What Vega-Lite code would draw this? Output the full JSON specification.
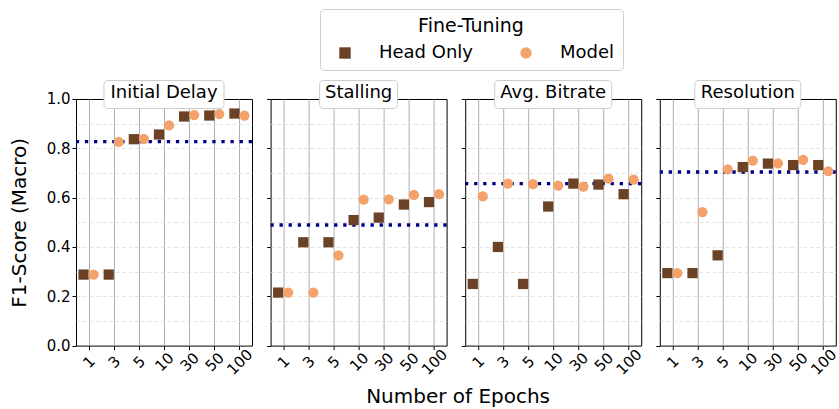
{
  "$schema": "https://vega.github.io/schema/vega-lite/v6.json",
  "padding": {"left": 8, "top": 8, "right": 2, "bottom": 5},
  "datasets": {
    "scores": [
      {"metric": "Initial Delay", "method": "Head Only", "epoch": "1", "f1": 0.288},
      {"metric": "Initial Delay", "method": "Head Only", "epoch": "3", "f1": 0.288},
      {"metric": "Initial Delay", "method": "Head Only", "epoch": "5", "f1": 0.837},
      {"metric": "Initial Delay", "method": "Head Only", "epoch": "10", "f1": 0.856},
      {"metric": "Initial Delay", "method": "Head Only", "epoch": "30", "f1": 0.929},
      {"metric": "Initial Delay", "method": "Head Only", "epoch": "50", "f1": 0.933},
      {"metric": "Initial Delay", "method": "Head Only", "epoch": "100", "f1": 0.941},
      {"metric": "Initial Delay", "method": "Model", "epoch": "1", "f1": 0.288},
      {"metric": "Initial Delay", "method": "Model", "epoch": "3", "f1": 0.826},
      {"metric": "Initial Delay", "method": "Model", "epoch": "5", "f1": 0.838},
      {"metric": "Initial Delay", "method": "Model", "epoch": "10", "f1": 0.893},
      {"metric": "Initial Delay", "method": "Model", "epoch": "30", "f1": 0.935},
      {"metric": "Initial Delay", "method": "Model", "epoch": "50", "f1": 0.939},
      {"metric": "Initial Delay", "method": "Model", "epoch": "100", "f1": 0.933},
      {"metric": "Stalling", "method": "Head Only", "epoch": "1", "f1": 0.215},
      {"metric": "Stalling", "method": "Head Only", "epoch": "3", "f1": 0.419},
      {"metric": "Stalling", "method": "Head Only", "epoch": "5", "f1": 0.419},
      {"metric": "Stalling", "method": "Head Only", "epoch": "10", "f1": 0.509},
      {"metric": "Stalling", "method": "Head Only", "epoch": "30", "f1": 0.519},
      {"metric": "Stalling", "method": "Head Only", "epoch": "50", "f1": 0.572},
      {"metric": "Stalling", "method": "Head Only", "epoch": "100", "f1": 0.582},
      {"metric": "Stalling", "method": "Model", "epoch": "1", "f1": 0.215},
      {"metric": "Stalling", "method": "Model", "epoch": "3", "f1": 0.215},
      {"metric": "Stalling", "method": "Model", "epoch": "5", "f1": 0.366},
      {"metric": "Stalling", "method": "Model", "epoch": "10", "f1": 0.592},
      {"metric": "Stalling", "method": "Model", "epoch": "30", "f1": 0.593},
      {"metric": "Stalling", "method": "Model", "epoch": "50", "f1": 0.611},
      {"metric": "Stalling", "method": "Model", "epoch": "100", "f1": 0.614},
      {"metric": "Avg. Bitrate", "method": "Head Only", "epoch": "1", "f1": 0.250},
      {"metric": "Avg. Bitrate", "method": "Head Only", "epoch": "3", "f1": 0.400},
      {"metric": "Avg. Bitrate", "method": "Head Only", "epoch": "5", "f1": 0.250},
      {"metric": "Avg. Bitrate", "method": "Head Only", "epoch": "10", "f1": 0.564},
      {"metric": "Avg. Bitrate", "method": "Head Only", "epoch": "30", "f1": 0.657},
      {"metric": "Avg. Bitrate", "method": "Head Only", "epoch": "50", "f1": 0.653},
      {"metric": "Avg. Bitrate", "method": "Head Only", "epoch": "100", "f1": 0.614},
      {"metric": "Avg. Bitrate", "method": "Model", "epoch": "1", "f1": 0.605},
      {"metric": "Avg. Bitrate", "method": "Model", "epoch": "3", "f1": 0.657},
      {"metric": "Avg. Bitrate", "method": "Model", "epoch": "5", "f1": 0.655},
      {"metric": "Avg. Bitrate", "method": "Model", "epoch": "10", "f1": 0.649},
      {"metric": "Avg. Bitrate", "method": "Model", "epoch": "30", "f1": 0.645},
      {"metric": "Avg. Bitrate", "method": "Model", "epoch": "50", "f1": 0.677},
      {"metric": "Avg. Bitrate", "method": "Model", "epoch": "100", "f1": 0.673},
      {"metric": "Resolution", "method": "Head Only", "epoch": "1", "f1": 0.294},
      {"metric": "Resolution", "method": "Head Only", "epoch": "3", "f1": 0.294},
      {"metric": "Resolution", "method": "Head Only", "epoch": "5", "f1": 0.366},
      {"metric": "Resolution", "method": "Head Only", "epoch": "10", "f1": 0.724},
      {"metric": "Resolution", "method": "Head Only", "epoch": "30", "f1": 0.738},
      {"metric": "Resolution", "method": "Head Only", "epoch": "50", "f1": 0.732},
      {"metric": "Resolution", "method": "Head Only", "epoch": "100", "f1": 0.732},
      {"metric": "Resolution", "method": "Model", "epoch": "1", "f1": 0.294},
      {"metric": "Resolution", "method": "Model", "epoch": "3", "f1": 0.541},
      {"metric": "Resolution", "method": "Model", "epoch": "5", "f1": 0.715},
      {"metric": "Resolution", "method": "Model", "epoch": "10", "f1": 0.750},
      {"metric": "Resolution", "method": "Model", "epoch": "30", "f1": 0.739},
      {"metric": "Resolution", "method": "Model", "epoch": "50", "f1": 0.753},
      {"metric": "Resolution", "method": "Model", "epoch": "100", "f1": 0.707}
    ],
    "baselines": [
      {"metric": "Initial Delay", "baseline": 0.827},
      {"metric": "Stalling", "baseline": 0.489},
      {"metric": "Avg. Bitrate", "baseline": 0.657},
      {"metric": "Resolution", "baseline": 0.704}
    ]
  },
  "title": {"text": "Number of Epochs", "orient": "bottom", "anchor": "middle", "fontSize": 20, "fontWeight": "normal", "offset": 9, "dx": 34, "font": "DejaVu Sans", "color": "black"},
  "spacing": 18.6,
  "bounds": "flush",
  "hconcat": [
    {
      "width": 176, "height": 246.6,
      "resolve": {"axis": {"y": "independent"}},
      "layer": [
        {
          "data": {"name": "baselines"},
          "transform": [{"filter": "datum.metric === 'Initial Delay'"}],
          "mark": {"type": "rule", "color": "#00008b", "strokeWidth": 3.3, "strokeDash": [3.3, 5.8]},
          "encoding": {"y": {"field": "baseline", "type": "quantitative", "scale": {"domain": [0, 1]}, "axis": {"orient": "left", "values": [0.1, 0.2, 0.3, 0.4, 0.5, 0.6, 0.7, 0.8, 0.9], "grid": true, "gridColor": "#dddddd", "gridDash": [4, 2.5], "gridWidth": 0.8, "ticks": false, "labels": false, "domain": false, "title": null}}}
        },
        {
          "data": {"name": "scores"},
          "transform": [{"filter": "datum.metric === 'Initial Delay' && datum.method === 'Head Only'"}],
          "mark": {"type": "point", "filled": true, "opacity": 1, "size": 105, "xOffset": -5},
          "encoding": {
            "x": {"field": "epoch", "type": "ordinal", "sort": ["1", "3", "5", "10", "30", "50", "100"], "scale": {"type": "point", "padding": 0.5}, "axis": {"title": null, "labelAngle": -45, "labelAlign": "center", "labelBaseline": "middle", "labelPadding": 12, "tickSize": 4, "tickColor": "black", "domain": false, "grid": true, "gridColor": "#b0b0b0", "gridWidth": 1, "labelFontSize": 15}},
            "y": {"field": "f1", "type": "quantitative", "scale": {"domain": [0, 1]}, "axis": {"orient": "left", "values": [0, 0.2, 0.4, 0.6, 0.8, 1.0], "format": ".1f", "grid": false, "domain": false, "tickSize": 4, "tickColor": "black", "labelFontSize": 15, "title": "F1-Score (Macro)", "titleFontSize": 20, "titlePadding": 17}},
            "color": {"field": "method", "type": "nominal", "title": "Fine-Tuning", "scale": {"domain": ["Head Only", "Model"], "range": ["#6b4226", "#f4a26b"]}},
            "shape": {"field": "method", "type": "nominal", "title": "Fine-Tuning", "scale": {"domain": ["Head Only", "Model"], "range": ["square", "circle"]}}
          }
        },
        {
          "data": {"name": "scores"},
          "transform": [{"filter": "datum.metric === 'Initial Delay' && datum.method === 'Model'"}],
          "mark": {"type": "point", "filled": true, "opacity": 1, "size": 105, "xOffset": 5},
          "encoding": {
            "x": {"field": "epoch", "type": "ordinal", "sort": ["1", "3", "5", "10", "30", "50", "100"], "scale": {"type": "point", "padding": 0.5}},
            "y": {"field": "f1", "type": "quantitative", "scale": {"domain": [0, 1]}, "axis": null},
            "color": {"field": "method", "type": "nominal", "title": "Fine-Tuning", "scale": {"domain": ["Head Only", "Model"], "range": ["#6b4226", "#f4a26b"]}},
            "shape": {"field": "method", "type": "nominal", "title": "Fine-Tuning", "scale": {"domain": ["Head Only", "Model"], "range": ["square", "circle"]}}
          }
        },
        {
          "data": {"name": "baselines"},
          "transform": [{"filter": "datum.metric === 'Initial Delay'"}],
          "encoding": {
            "x": {"datum": "10", "type": "ordinal", "scale": {"type": "point", "padding": 0.5}},
            "y": {"datum": 1, "type": "quantitative", "scale": {"domain": [0, 1]}, "axis": null}
          },
          "layer": [
            {"mark": {"type": "point", "shape": "M-0.933,-0.308 L0.933,-0.308 Q1,-0.308 1,-0.241 L1,0.091 Q1,0.158 0.933,0.158 L-0.933,0.158 Q-1,0.158 -1,0.091 L-1,-0.241 Q-1,-0.308 -0.933,-0.308 Z", "size": 14400, "filled": true, "fill": "white", "stroke": "#cccccc", "strokeWidth": 1, "opacity": 1}},
            {"mark": {"type": "text", "fontSize": 18, "dy": -6, "baseline": "middle", "align": "center", "color": "black"}, "encoding": {"text": {"field": "metric"}}}
          ]
        }
      ]
    },
    {
      "width": 176, "height": 246.6,
      "resolve": {"axis": {"y": "independent"}},
      "layer": [
        {
          "data": {"name": "baselines"},
          "transform": [{"filter": "datum.metric === 'Stalling'"}],
          "mark": {"type": "rule", "color": "#00008b", "strokeWidth": 3.3, "strokeDash": [3.3, 5.8]},
          "encoding": {"y": {"field": "baseline", "type": "quantitative", "scale": {"domain": [0, 1]}, "axis": {"orient": "left", "values": [0.1, 0.2, 0.3, 0.4, 0.5, 0.6, 0.7, 0.8, 0.9], "grid": true, "gridColor": "#dddddd", "gridDash": [4, 2.5], "gridWidth": 0.8, "ticks": false, "labels": false, "domain": false, "title": null}}}
        },
        {
          "data": {"name": "scores"},
          "transform": [{"filter": "datum.metric === 'Stalling' && datum.method === 'Head Only'"}],
          "mark": {"type": "point", "filled": true, "opacity": 1, "size": 105, "xOffset": -5},
          "encoding": {
            "x": {"field": "epoch", "type": "ordinal", "sort": ["1", "3", "5", "10", "30", "50", "100"], "scale": {"type": "point", "padding": 0.5}, "axis": {"title": null, "labelAngle": -45, "labelAlign": "center", "labelBaseline": "middle", "labelPadding": 12, "tickSize": 4, "tickColor": "black", "domain": false, "grid": true, "gridColor": "#b0b0b0", "gridWidth": 1, "labelFontSize": 15}},
            "y": {"field": "f1", "type": "quantitative", "scale": {"domain": [0, 1]}, "axis": {"orient": "left", "values": [0, 0.2, 0.4, 0.6, 0.8, 1.0], "grid": false, "domain": false, "tickSize": 4, "tickColor": "black", "labels": false, "title": null}},
            "color": {"field": "method", "type": "nominal", "title": "Fine-Tuning", "scale": {"domain": ["Head Only", "Model"], "range": ["#6b4226", "#f4a26b"]}},
            "shape": {"field": "method", "type": "nominal", "title": "Fine-Tuning", "scale": {"domain": ["Head Only", "Model"], "range": ["square", "circle"]}}
          }
        },
        {
          "data": {"name": "scores"},
          "transform": [{"filter": "datum.metric === 'Stalling' && datum.method === 'Model'"}],
          "mark": {"type": "point", "filled": true, "opacity": 1, "size": 105, "xOffset": 5},
          "encoding": {
            "x": {"field": "epoch", "type": "ordinal", "sort": ["1", "3", "5", "10", "30", "50", "100"], "scale": {"type": "point", "padding": 0.5}},
            "y": {"field": "f1", "type": "quantitative", "scale": {"domain": [0, 1]}, "axis": null},
            "color": {"field": "method", "type": "nominal", "title": "Fine-Tuning", "scale": {"domain": ["Head Only", "Model"], "range": ["#6b4226", "#f4a26b"]}},
            "shape": {"field": "method", "type": "nominal", "title": "Fine-Tuning", "scale": {"domain": ["Head Only", "Model"], "range": ["square", "circle"]}}
          }
        },
        {
          "data": {"name": "baselines"},
          "transform": [{"filter": "datum.metric === 'Stalling'"}],
          "encoding": {
            "x": {"datum": "10", "type": "ordinal", "scale": {"type": "point", "padding": 0.5}},
            "y": {"datum": 1, "type": "quantitative", "scale": {"domain": [0, 1]}, "axis": null}
          },
          "layer": [
            {"mark": {"type": "point", "shape": "M-0.583,-0.308 L0.583,-0.308 Q0.65,-0.308 0.65,-0.241 L0.65,0.091 Q0.65,0.158 0.583,0.158 L-0.583,0.158 Q-0.65,0.158 -0.65,0.091 L-0.65,-0.241 Q-0.65,-0.308 -0.583,-0.308 Z", "size": 14400, "filled": true, "fill": "white", "stroke": "#cccccc", "strokeWidth": 1, "opacity": 1}},
            {"mark": {"type": "text", "fontSize": 18, "dy": -6, "baseline": "middle", "align": "center", "color": "black"}, "encoding": {"text": {"field": "metric"}}}
          ]
        }
      ]
    },
    {
      "width": 176, "height": 246.6,
      "resolve": {"axis": {"y": "independent"}},
      "layer": [
        {
          "data": {"name": "baselines"},
          "transform": [{"filter": "datum.metric === 'Avg. Bitrate'"}],
          "mark": {"type": "rule", "color": "#00008b", "strokeWidth": 3.3, "strokeDash": [3.3, 5.8]},
          "encoding": {"y": {"field": "baseline", "type": "quantitative", "scale": {"domain": [0, 1]}, "axis": {"orient": "left", "values": [0.1, 0.2, 0.3, 0.4, 0.5, 0.6, 0.7, 0.8, 0.9], "grid": true, "gridColor": "#dddddd", "gridDash": [4, 2.5], "gridWidth": 0.8, "ticks": false, "labels": false, "domain": false, "title": null}}}
        },
        {
          "data": {"name": "scores"},
          "transform": [{"filter": "datum.metric === 'Avg. Bitrate' && datum.method === 'Head Only'"}],
          "mark": {"type": "point", "filled": true, "opacity": 1, "size": 105, "xOffset": -5},
          "encoding": {
            "x": {"field": "epoch", "type": "ordinal", "sort": ["1", "3", "5", "10", "30", "50", "100"], "scale": {"type": "point", "padding": 0.5}, "axis": {"title": null, "labelAngle": -45, "labelAlign": "center", "labelBaseline": "middle", "labelPadding": 12, "tickSize": 4, "tickColor": "black", "domain": false, "grid": true, "gridColor": "#b0b0b0", "gridWidth": 1, "labelFontSize": 15}},
            "y": {"field": "f1", "type": "quantitative", "scale": {"domain": [0, 1]}, "axis": {"orient": "left", "values": [0, 0.2, 0.4, 0.6, 0.8, 1.0], "grid": false, "domain": false, "tickSize": 4, "tickColor": "black", "labels": false, "title": null}},
            "color": {"field": "method", "type": "nominal", "title": "Fine-Tuning", "scale": {"domain": ["Head Only", "Model"], "range": ["#6b4226", "#f4a26b"]}},
            "shape": {"field": "method", "type": "nominal", "title": "Fine-Tuning", "scale": {"domain": ["Head Only", "Model"], "range": ["square", "circle"]}}
          }
        },
        {
          "data": {"name": "scores"},
          "transform": [{"filter": "datum.metric === 'Avg. Bitrate' && datum.method === 'Model'"}],
          "mark": {"type": "point", "filled": true, "opacity": 1, "size": 105, "xOffset": 5},
          "encoding": {
            "x": {"field": "epoch", "type": "ordinal", "sort": ["1", "3", "5", "10", "30", "50", "100"], "scale": {"type": "point", "padding": 0.5}},
            "y": {"field": "f1", "type": "quantitative", "scale": {"domain": [0, 1]}, "axis": null},
            "color": {"field": "method", "type": "nominal", "title": "Fine-Tuning", "scale": {"domain": ["Head Only", "Model"], "range": ["#6b4226", "#f4a26b"]}},
            "shape": {"field": "method", "type": "nominal", "title": "Fine-Tuning", "scale": {"domain": ["Head Only", "Model"], "range": ["square", "circle"]}}
          }
        },
        {
          "data": {"name": "baselines"},
          "transform": [{"filter": "datum.metric === 'Avg. Bitrate'"}],
          "encoding": {
            "x": {"datum": "10", "type": "ordinal", "scale": {"type": "point", "padding": 0.5}},
            "y": {"datum": 1, "type": "quantitative", "scale": {"domain": [0, 1]}, "axis": null}
          },
          "layer": [
            {"mark": {"type": "point", "shape": "M-0.908,-0.308 L0.908,-0.308 Q0.975,-0.308 0.975,-0.241 L0.975,0.091 Q0.975,0.158 0.908,0.158 L-0.908,0.158 Q-0.975,0.158 -0.975,0.091 L-0.975,-0.241 Q-0.975,-0.308 -0.908,-0.308 Z", "size": 14400, "filled": true, "fill": "white", "stroke": "#cccccc", "strokeWidth": 1, "opacity": 1}},
            {"mark": {"type": "text", "fontSize": 18, "dy": -6, "baseline": "middle", "align": "center", "color": "black"}, "encoding": {"text": {"field": "metric"}}}
          ]
        }
      ]
    },
    {
      "width": 176, "height": 246.6,
      "resolve": {"axis": {"y": "independent"}},
      "layer": [
        {
          "data": {"name": "baselines"},
          "transform": [{"filter": "datum.metric === 'Resolution'"}],
          "mark": {"type": "rule", "color": "#00008b", "strokeWidth": 3.3, "strokeDash": [3.3, 5.8]},
          "encoding": {"y": {"field": "baseline", "type": "quantitative", "scale": {"domain": [0, 1]}, "axis": {"orient": "left", "values": [0.1, 0.2, 0.3, 0.4, 0.5, 0.6, 0.7, 0.8, 0.9], "grid": true, "gridColor": "#dddddd", "gridDash": [4, 2.5], "gridWidth": 0.8, "ticks": false, "labels": false, "domain": false, "title": null}}}
        },
        {
          "data": {"name": "scores"},
          "transform": [{"filter": "datum.metric === 'Resolution' && datum.method === 'Head Only'"}],
          "mark": {"type": "point", "filled": true, "opacity": 1, "size": 105, "xOffset": -5},
          "encoding": {
            "x": {"field": "epoch", "type": "ordinal", "sort": ["1", "3", "5", "10", "30", "50", "100"], "scale": {"type": "point", "padding": 0.5}, "axis": {"title": null, "labelAngle": -45, "labelAlign": "center", "labelBaseline": "middle", "labelPadding": 12, "tickSize": 4, "tickColor": "black", "domain": false, "grid": true, "gridColor": "#b0b0b0", "gridWidth": 1, "labelFontSize": 15}},
            "y": {"field": "f1", "type": "quantitative", "scale": {"domain": [0, 1]}, "axis": {"orient": "left", "values": [0, 0.2, 0.4, 0.6, 0.8, 1.0], "grid": false, "domain": false, "tickSize": 4, "tickColor": "black", "labels": false, "title": null}},
            "color": {"field": "method", "type": "nominal", "title": "Fine-Tuning", "scale": {"domain": ["Head Only", "Model"], "range": ["#6b4226", "#f4a26b"]}},
            "shape": {"field": "method", "type": "nominal", "title": "Fine-Tuning", "scale": {"domain": ["Head Only", "Model"], "range": ["square", "circle"]}}
          }
        },
        {
          "data": {"name": "scores"},
          "transform": [{"filter": "datum.metric === 'Resolution' && datum.method === 'Model'"}],
          "mark": {"type": "point", "filled": true, "opacity": 1, "size": 105, "xOffset": 5},
          "encoding": {
            "x": {"field": "epoch", "type": "ordinal", "sort": ["1", "3", "5", "10", "30", "50", "100"], "scale": {"type": "point", "padding": 0.5}},
            "y": {"field": "f1", "type": "quantitative", "scale": {"domain": [0, 1]}, "axis": null},
            "color": {"field": "method", "type": "nominal", "title": "Fine-Tuning", "scale": {"domain": ["Head Only", "Model"], "range": ["#6b4226", "#f4a26b"]}},
            "shape": {"field": "method", "type": "nominal", "title": "Fine-Tuning", "scale": {"domain": ["Head Only", "Model"], "range": ["square", "circle"]}}
          }
        },
        {
          "data": {"name": "baselines"},
          "transform": [{"filter": "datum.metric === 'Resolution'"}],
          "encoding": {
            "x": {"datum": "10", "type": "ordinal", "scale": {"type": "point", "padding": 0.5}},
            "y": {"datum": 1, "type": "quantitative", "scale": {"domain": [0, 1]}, "axis": null}
          },
          "layer": [
            {"mark": {"type": "point", "shape": "M-0.816,-0.308 L0.816,-0.308 Q0.883,-0.308 0.883,-0.241 L0.883,0.091 Q0.883,0.158 0.816,0.158 L-0.816,0.158 Q-0.883,0.158 -0.883,0.091 L-0.883,-0.241 Q-0.883,-0.308 -0.816,-0.308 Z", "size": 14400, "filled": true, "fill": "white", "stroke": "#cccccc", "strokeWidth": 1, "opacity": 1}},
            {"mark": {"type": "text", "fontSize": 18, "dy": -6, "baseline": "middle", "align": "center", "color": "black"}, "encoding": {"text": {"field": "metric"}}}
          ]
        }
      ]
    }
  ],
  "config": {
    "font": "DejaVu Sans",
    "view": {"stroke": "black", "strokeWidth": 1},
    "axis": {"labelFont": "DejaVu Sans", "titleFont": "DejaVu Sans", "labelColor": "black", "titleColor": "black", "titleFontWeight": "normal", "titleFontSize": 20, "labelFontSize": 15},
    "legend": {"orient": "none", "legendX": 244, "legendY": -90, "direction": "horizontal", "titleAnchor": "middle", "titleFontSize": 19, "titleFontWeight": "normal", "titleColor": "black", "labelColor": "black", "labelFontSize": 18, "titleFont": "DejaVu Sans", "labelFont": "DejaVu Sans", "symbolSize": 130, "strokeColor": "#cccccc", "cornerRadius": 4, "padding": 8, "fillColor": "white", "labelOffset": 25, "columnPadding": 35, "titlePadding": 8, "symbolOffset": 8, "symbolStrokeWidth": 0}
  }
}
